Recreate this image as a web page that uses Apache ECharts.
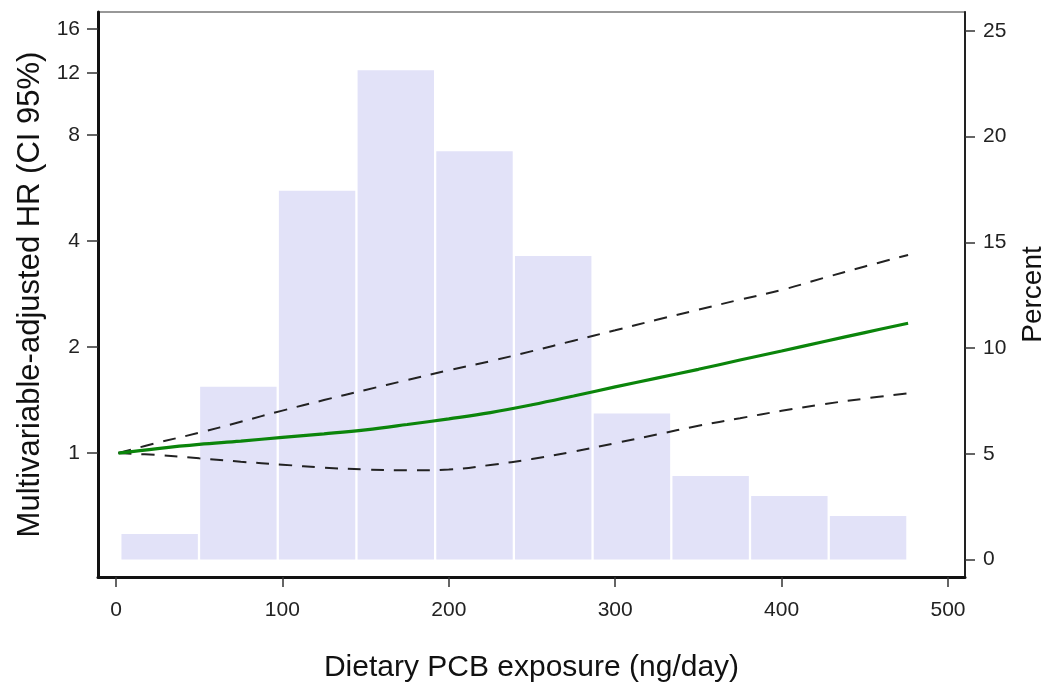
<!DOCTYPE html>
<html>
<head>
<meta charset="utf-8">
<script src="https://cdn.jsdelivr.net/npm/echarts@6/dist/echarts.min.js"></script>
<style>
  html, body { margin: 0; padding: 0; background: #fff; }
  #chart { width: 1048px; height: 685px; }
</style>
</head>
<body>
<div id="chart"></div>
<script>
// Histogram of dietary PCB exposure (bin edges in ng/day, share of participants in %)
const binEdges = [2.6, 49.9, 97.2, 144.5, 191.8, 239.1, 286.4, 333.7, 381.0, 428.3, 475.6];
const binPercent = [1.21, 8.17, 17.44, 23.14, 19.31, 14.35, 6.91, 3.95, 3.0, 2.06];

// Spline-fitted hazard ratio with its 95% confidence band
const exposure   = [1.5, 25, 50, 75, 100, 125, 150, 175, 200, 225, 250, 275, 300, 325, 350, 375, 400, 425, 450, 476];
const hrEstimate = [1.0, 1.03, 1.058, 1.081, 1.108, 1.134, 1.164, 1.205, 1.251, 1.303, 1.371, 1.452, 1.541, 1.632, 1.729, 1.837, 1.949, 2.07, 2.198, 2.336];
const hrLower    = [1.0, 0.987, 0.966, 0.945, 0.927, 0.909, 0.898, 0.893, 0.898, 0.925, 0.962, 1.010, 1.067, 1.129, 1.195, 1.256, 1.318, 1.376, 1.428, 1.478];
const hrUpper    = [1.0, 1.07, 1.142, 1.227, 1.32, 1.414, 1.511, 1.612, 1.718, 1.824, 1.947, 2.085, 2.231, 2.39, 2.553, 2.727, 2.904, 3.14, 3.388, 3.65];

// Tick labels
const xTicks   = [0, 100, 200, 300, 400, 500];
const hrTicks  = [1, 2, 4, 8, 12, 16];
const pctTicks = [0, 5, 10, 15, 20, 25];

const FONT = "'Liberation Sans', Arial, Helvetica, sans-serif";
const pair = (ys) => exposure.map((x, i) => [x, ys[i]]);
const histData = binPercent.map((p, i) => [binEdges[i], binEdges[i + 1], p]);

const chart = echarts.init(document.getElementById('chart'), null, { renderer: 'canvas' });

chart.setOption({
  animation: false,
  backgroundColor: '#ffffff',
  grid: {
    left: 98, right: 83, top: 12, bottom: 108,
    outerBoundsMode: 'none',
    containLabel: false,
    show: true, borderColor: '#777', borderWidth: 1.5, backgroundColor: 'transparent'
  },
  xAxis: {
    type: 'value',
    min: -10.8, max: 510.2,
    name: 'Dietary PCB exposure (ng/day)',
    nameLocation: 'middle',
    nameGap: 76,
    nameTextStyle: { fontFamily: FONT, fontSize: 30, color: '#111' },
    axisLine: { show: true, onZero: false, lineStyle: { color: '#111', width: 3 } },
    axisTick: { show: true, length: 10, customValues: xTicks, lineStyle: { color: '#333', width: 1.5 } },
    axisLabel: { customValues: xTicks, margin: 23, fontFamily: FONT, fontSize: 21, color: '#222' },
    splitLine: { show: false }
  },
  yAxis: [
    {
      type: 'log',
      logBase: 2,
      min: 0.4447, max: 17.88,
      position: 'left',
      name: 'Multivariable-adjusted HR (CI 95%)',
      nameLocation: 'middle',
      nameGap: 52,
      nameTextStyle: { fontFamily: FONT, fontSize: 31, color: '#111' },
      axisLine: { show: true, onZero: false, lineStyle: { color: '#111', width: 3 } },
      axisTick: { show: true, length: 11, customValues: hrTicks, lineStyle: { color: '#333', width: 1.5 } },
      axisLabel: { customValues: hrTicks, margin: 18, fontFamily: FONT, fontSize: 21, color: '#222',
                   formatter: (v) => String(Math.round(v)) },
      splitLine: { show: false }
    },
    {
      type: 'value',
      min: -0.827, max: 25.89,
      position: 'right',
      name: 'Percent',
      nameLocation: 'middle',
      nameGap: 54,
      nameTextStyle: { fontFamily: FONT, fontSize: 28, color: '#111' },
      axisLine: { show: true, onZero: false, lineStyle: { color: '#222', width: 2 } },
      axisTick: { show: true, length: 10, customValues: pctTicks, lineStyle: { color: '#333', width: 1.5 } },
      axisLabel: { customValues: pctTicks, margin: 18, fontFamily: FONT, fontSize: 21, color: '#222' },
      splitLine: { show: false }
    }
  ],
  series: [
    {
      name: 'Distribution',
      type: 'custom',
      yAxisIndex: 1,
      data: histData,
      encode: { x: [0, 1], y: 2 },
      renderItem: function (params, api) {
        const base = api.coord([api.value(0), 0]);
        const top = api.coord([api.value(1), api.value(2)]);
        return {
          type: 'rect',
          shape: { x: base[0] + 1.15, y: top[1], width: top[0] - base[0] - 2.3, height: base[1] - top[1] },
          style: { fill: '#e2e2f8' }
        };
      }
    },
    {
      name: 'Upper 95% CI',
      type: 'line', yAxisIndex: 0, smooth: 0.4, showSymbol: false,
      data: pair(hrUpper),
      lineStyle: { color: '#222', width: 2, type: [13, 10] }
    },
    {
      name: 'Lower 95% CI',
      type: 'line', yAxisIndex: 0, smooth: 0.4, showSymbol: false,
      data: pair(hrLower),
      lineStyle: { color: '#222', width: 2, type: [13, 10] }
    },
    {
      name: 'HR',
      type: 'line', yAxisIndex: 0, smooth: 0.4, showSymbol: false,
      data: pair(hrEstimate),
      lineStyle: { color: '#0b850b', width: 3.2 }
    }
  ]
});
</script>
</body>
</html>
